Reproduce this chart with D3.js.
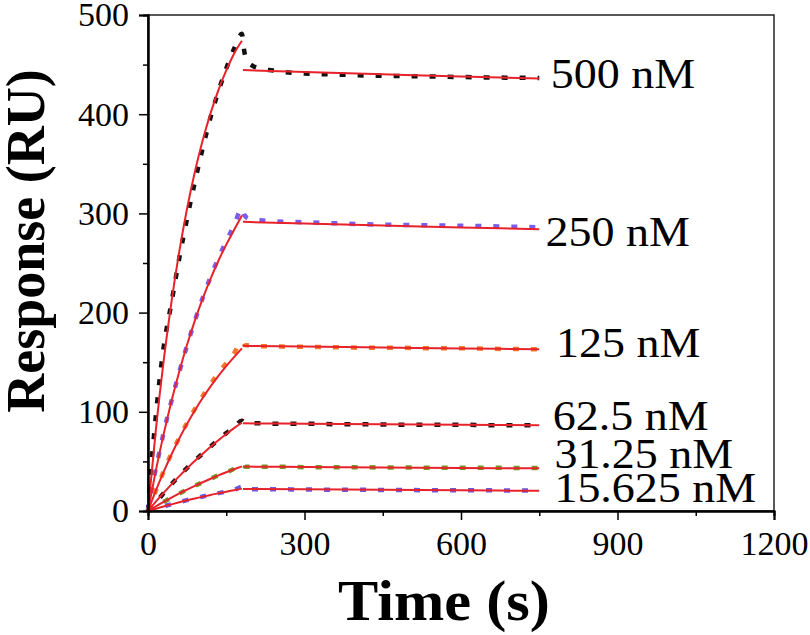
<!DOCTYPE html>
<html>
<head>
<meta charset="utf-8">
<script src="https://cdn.jsdelivr.net/npm/d3@7"></script>
<style>
  html, body { margin: 0; padding: 0; background: #fff; }
  svg { display: block; }
  text { font-family: "Liberation Serif", "Times New Roman", serif; fill: #000; }
</style>
</head>
<body>
<svg id="chart" width="810" height="635"></svg>
<script>
// ---------------- data ----------------
const concentrations = ["500 nM", "250 nM", "125 nM", "62.5 nM", "31.25 nM", "15.625 nM"];

// measured sensorgram time grid (s)
const dataTime = [0, 5, 10, 20, 30, 45, 60, 75, 90, 105, 120, 135, 150, 165, 180,
                  185, 190, 200, 215, 240, 270, 300, 360, 420, 480, 540, 600, 660, 750];

const data500   = [0, 40, 68, 122, 165, 210, 255, 295, 332, 366, 397, 423, 446, 466, 481,
                   462, 454, 449, 446, 444, 442, 441, 440, 439, 438.5, 438, 437.5, 437, 436.5];
const data250   = [0, 16, 30, 55, 79, 111, 140, 167, 192, 215, 236, 255, 272, 288, 305,
                   298, 295.5, 294, 293, 292, 291.5, 291, 290, 289, 288.5, 288, 287.5, 287, 286];
const data125   = [0, 7, 14, 27, 40, 58, 74, 89, 103, 116, 128, 139, 149, 159, 171,
                   167.5, 167, 166.5, 166, 166, 165.5, 165.5, 165, 164.5, 164.5, 164, 164, 163.5, 163];
const data62_5  = [0, 3, 5.5, 11.5, 18, 27, 35.5, 43.5, 51, 58, 65, 72, 78.5, 84.5, 91,
                   89, 88.5, 88.5, 88.5, 88, 88, 88, 87.5, 87.5, 87, 87, 87, 86.5, 86.5];
const data31_25 = [0, 1.5, 3, 6, 9, 13.5, 17.5, 21.5, 25.5, 29, 32.5, 36, 39, 42.5, 47.4,
                   45, 44.5, 44.5, 44.5, 44.5, 44.5, 44.2, 44, 44, 43.8, 43.7, 43.5, 43.5, 43.3];
const data15_625= [0, 0.8, 1.6, 3, 4.6, 6.8, 9, 11, 12.8, 14.6, 16.3, 18, 19.6, 21.2, 24.5,
                   22.5, 22.2, 22, 22, 21.8, 21.8, 21.6, 21.5, 21.3, 21.2, 21, 21, 20.8, 20.6];

// fitted curves: association phase and dissociation phase
const fitAssocTime = [0, 15, 30, 45, 60, 75, 90, 105, 120, 135, 150, 165, 180];
const fitAssoc500   = [0, 81.6, 151.3, 210.9, 261.7, 305.2, 342.3, 374.0, 401.1, 424.3, 444.1, 461.0, 474];
const fitAssoc250   = [0, 40.7, 77.5, 110.7, 140.7, 167.8, 192.2, 214.3, 234.3, 252.3, 268.5, 283.2, 298];
const fitAssoc125   = [0, 20.6, 39.5, 57.0, 73.1, 87.9, 101.5, 114.1, 125.6, 136.3, 146.1, 155.1, 164];
const fitAssoc62_5  = [0, 9.4, 18.3, 26.9, 35.2, 43.0, 50.6, 57.7, 64.7, 71.3, 77.6, 83.6, 89.0];
const fitAssoc31_25 = [0, 4.7, 9.2, 13.5, 17.7, 21.6, 25.4, 29.0, 32.5, 35.9, 39.1, 42.1, 45.0];
const fitAssoc15_625= [0, 2.3, 4.6, 6.7, 8.8, 10.8, 12.6, 14.4, 16.2, 17.8, 19.4, 20.9, 22.6];

const fitDissocTime = [182, 300, 450, 600, 750];
const fitDissoc500   = [444.5, 442.5, 440.2, 438, 436];
const fitDissoc250   = [291.5, 289.8, 287.8, 285.9, 284];
const fitDissoc125   = [166.5, 165.8, 164.8, 163.9, 163];
const fitDissoc62_5  = [88.4, 88, 87.5, 87, 86.5];
const fitDissoc31_25 = [44.8, 44.4, 43.9, 43.4, 43];
const fitDissoc15_625= [22.3, 21.9, 21.3, 20.8, 20.3];

// label anchor in data units (time, response)
const labelTime  = [772, 762, 782, 776, 779, 779];
const labelValue = [426, 267, 155, 82, 43.5, 9.3];

const xTicks = [0, 300, 600, 900, 1200];
const xMinor = [150, 450, 750, 1050];
const yTicks = [0, 100, 200, 300, 400, 500];
const yMinor = [50, 150, 250, 350, 450];

// ---------------- styles ----------------
const dataSeries = [data500, data250, data125, data62_5, data31_25, data15_625];
const fitAssocSeries = [fitAssoc500, fitAssoc250, fitAssoc125, fitAssoc62_5, fitAssoc31_25, fitAssoc15_625];
const fitDissocSeries = [fitDissoc500, fitDissoc250, fitDissoc125, fitDissoc62_5, fitDissoc31_25, fitDissoc15_625];
const dataColors = ["#111111", "#7a5cf0", "#f2782a", "#2a1414", "#6f9a28", "#6a5ae0"];
const fitColor = "#e8222a";

const svg = d3.select("#chart");
const x = d3.scaleLinear().domain([0, 1200]).range([148, 774]);
const y = d3.scaleLinear().domain([0, 500]).range([511, 15]);

// frame
svg.append("rect")
  .attr("x", x(0)).attr("y", y(500))
  .attr("width", x(1200) - x(0)).attr("height", y(0) - y(500))
  .attr("fill", "none").attr("stroke", "#222").attr("stroke-width", 1.5);

// lines
const smooth = d3.line().x(d => x(d[0])).y(d => y(d[1])).curve(d3.curveMonotoneX);

dataSeries.forEach((s, i) => {
  svg.append("path")
    .datum(dataTime.map((t, j) => [t, s[j]]))
    .attr("d", smooth)
    .attr("fill", "none")
    .attr("stroke", dataColors[i])
    .attr("stroke-width", 4.5)
    .attr("stroke-dasharray", "6,12");
});

fitAssocSeries.forEach((s, i) => {
  svg.append("path")
    .datum(fitAssocTime.map((t, j) => [t, s[j]]))
    .attr("d", smooth)
    .attr("fill", "none").attr("stroke", fitColor).attr("stroke-width", 2);
  svg.append("path")
    .datum(fitDissocTime.map((t, j) => [t, fitDissocSeries[i][j]]))
    .attr("d", smooth)
    .attr("fill", "none").attr("stroke", fitColor).attr("stroke-width", 2);
});

// axes
svg.append("g").attr("transform", `translate(0,${y(0)})`)
  .call(d3.axisBottom(x).tickValues(xTicks).tickSize(9).tickPadding(11).tickFormat(d3.format("d")));
svg.append("g").attr("transform", `translate(0,${y(0)})`)
  .call(d3.axisBottom(x).tickValues(xMinor).tickSize(5).tickFormat(""));
svg.append("g").attr("transform", `translate(${x(0)},0)`)
  .call(d3.axisLeft(y).tickValues(yTicks).tickSize(9).tickPadding(10).tickFormat(d3.format("d")));
svg.append("g").attr("transform", `translate(${x(0)},0)`)
  .call(d3.axisLeft(y).tickValues(yMinor).tickSize(5).tickFormat(""));

svg.selectAll(".domain").attr("stroke", "#000").attr("stroke-width", 2);
svg.selectAll(".tick line").attr("stroke", "#000").attr("stroke-width", 1.5);
svg.selectAll(".tick text")
  .style("font-family", "'Liberation Serif', 'Times New Roman', serif")
  .style("font-size", "34px").attr("fill", "#000");

// series labels
concentrations.forEach((c, i) => {
  svg.append("text")
    .attr("transform", `translate(${x(labelTime[i])},${y(labelValue[i])}) scale(1.07,1)`)
    .style("font-size", "43px")
    .text(c);
});

// axis titles
svg.append("text")
  .attr("transform", "translate(444,620) scale(1.06,1)")
  .attr("text-anchor", "middle")
  .style("font-size", "57px").style("font-weight", "bold")
  .text("Time (s)");
svg.append("text")
  .attr("transform", "translate(44,241) rotate(-90)")
  .attr("text-anchor", "middle")
  .style("font-size", "54px").style("font-weight", "bold")
  .text("Response (RU)");
</script>
</body>
</html>
